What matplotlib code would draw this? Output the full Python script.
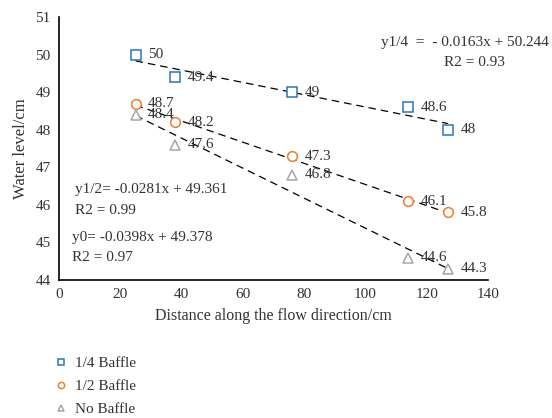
import matplotlib
matplotlib.use("Agg")
import matplotlib.pyplot as plt
import numpy as np

plt.rcParams['font.family'] = ['Liberation Serif', 'DejaVu Serif']
plt.rcParams['font.size'] = 11

# Data
distance = [25, 38, 76, 114, 127]
quarter_baffle = [50, 49.4, 49, 48.6, 48]
half_baffle = [48.7, 48.2, 47.3, 46.1, 45.8]
no_baffle = [48.4, 47.6, 46.8, 44.6, 44.3]

series_names = ['1/4 Baffle', '1/2 Baffle', 'No Baffle']
COLORS = {'1/4 Baffle': '#2E75B6', '1/2 Baffle': '#ED7D31', 'No Baffle': '#A5A5A5'}
MARKERS = {'1/4 Baffle': 's', '1/2 Baffle': 'o', 'No Baffle': '^'}
TEXT_COLOR = '#333333'

fig = plt.figure(figsize=(5.52, 4.18), dpi=100)
ax = fig.add_axes([0.107, 0.330, 0.777, 0.629])

handles = []
for name, vals in zip(series_names, [quarter_baffle, half_baffle, no_baffle]):
    h, = ax.plot(distance, vals, linestyle='none', marker=MARKERS[name], markersize=7,
                 markerfacecolor='white', markeredgecolor=COLORS[name],
                 markeredgewidth=1.1, label=name, zorder=3)
    handles.append(h)
    # linear trendline
    k, b = np.polyfit(distance, vals, 1)
    xs = np.array([distance[0], distance[-1]])
    ax.plot(xs, k * xs + b, color='black', linestyle=(0, (6, 4)), linewidth=0.9, zorder=2)
    for x, y in zip(distance, vals):
        ax.annotate(f"{y:g}", (x, y), xytext=(9, 0), textcoords='offset points',
                    ha='left', va='center', fontsize=11, color=TEXT_COLOR)

# Trendline equations
ax.text(105, 50.33, "y1/4  =  - 0.0163x + 50.244", fontsize=11, va='center', color=TEXT_COLOR)
ax.text(125.5, 49.8, "R2 = 0.93", fontsize=11, va='center', color=TEXT_COLOR)
ax.text(5.2, 46.4, "y1/2= -0.0281x + 49.361", fontsize=11, va='center', color=TEXT_COLOR)
ax.text(5.2, 45.86, "R2 = 0.99", fontsize=11, va='center', color=TEXT_COLOR)
ax.text(4.2, 45.12, "y0= -0.0398x + 49.378", fontsize=11, va='center', color=TEXT_COLOR)
ax.text(4.2, 44.59, "R2 = 0.97", fontsize=11, va='center', color=TEXT_COLOR)

ax.set_xlim(0, 140)
ax.set_ylim(44, 51)
ax.set_xticks(np.arange(0, 141, 20))
ax.set_yticks(np.arange(44, 52, 1))
ax.tick_params(length=0, labelsize=11, colors=TEXT_COLOR, pad=6)
ax.spines['top'].set_visible(False)
ax.spines['right'].set_visible(False)
ax.spines['left'].set_linewidth(1.2)
ax.spines['bottom'].set_linewidth(1.2)

ax.set_xlabel("Distance along the flow direction/cm", fontsize=11.5, color=TEXT_COLOR, labelpad=5)
ax.set_ylabel("Water level/cm", fontsize=12, color=TEXT_COLOR, labelpad=5)

leg = fig.legend(handles=handles, loc='upper left', bbox_to_anchor=(0.086, 0.162),
                 frameon=False, fontsize=11, handlelength=1.0, handletextpad=0.4,
                 labelspacing=0.62, markerscale=0.65, borderaxespad=0)
for t in leg.get_texts():
    t.set_color(TEXT_COLOR)

fig.savefig("out.png", dpi=100)
